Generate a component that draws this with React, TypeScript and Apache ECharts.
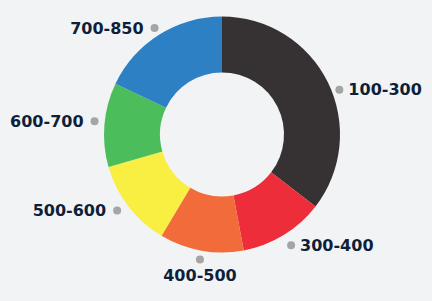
import React, { useEffect, useRef } from "react";
import * as echarts from "echarts";

const categories = ["100-300", "300-400", "400-500", "500-600", "600-700", "700-850"];
const values = [35.4, 11.6, 11.5, 12.0, 11.5, 17.9];
const colors = ["#363233", "#ee2d3a", "#f16b3b", "#f9ee42", "#4cbd5b", "#2e80c4"];
// per-slice label placement tweaks (label line length, length2, distance, padding)
const labelLen = [-16.6, 12, 17, 6.6, 4.5, 7.8];
const labelLen2 = [22.4, -2.9, 0, 2.1, 1.4, -3.7];
const labelDist = [0, 0, -41.6, 0, 0, 0];
const labelPad = [[0, 0, 0, 0], [0, 0, 0, 0], [0, 0, 0, 0], [0, 0, 0, 0], [0, 0, 6, 0], [0, 0, 0, 0]];

const TEXT_COLOR = "#0e1f3a";
const FONT = "DejaVu Sans";

export default function App() {
  const ref = useRef<HTMLDivElement>(null);
  useEffect(() => {
    document.body.style.margin = "0";
    if (!ref.current) return;
    const chart = echarts.init(ref.current, undefined, { renderer: "svg" });
    const textBase = { fontFamily: FONT, fontWeight: "bold", fontSize: 16, color: TEXT_COLOR, lineHeight: 16 };
    const data = categories.map((name, i) => ({
      name,
      value: values[i],
      itemStyle: { color: colors[i] },
      label: {
        distanceToLabelLine: labelDist[i],
        padding: labelPad[i],
      },
      labelLine: { show: false, length: labelLen[i], length2: labelLen2[i] },
    }));
    chart.setOption({
      animation: false,
      backgroundColor: "#f2f3f5",
      series: [
        {
          type: "pie",
          center: [222, 134.5],
          radius: [62, 118],
          startAngle: 90,
          clockwise: true,
          avoidLabelOverlap: false,
          silent: true,
          data,
          label: {
            show: true,
            position: "outside",
            fontFamily: FONT,
            formatter: (p: any) => {
              const i = p.dataIndex;
              if (i === 2) return `{cdot|}\n{b|${p.name}}`;
              if (i <= 1) return `{dot|}{r|${p.name}}`;
              return `{l|${p.name}}{dot|}`;
            },
            rich: {
              dot: { width: 8, height: 8, borderRadius: 4, backgroundColor: "#a5a5a5", lineHeight: 16 },
              cdot: { width: 8, height: 8, borderRadius: 4, backgroundColor: "#a5a5a5", lineHeight: 16, align: "center" },
              r: { ...textBase, padding: [0, 0, 0, 5] },
              l: { ...textBase, padding: [0, 7, 0, 0] },
              b: { ...textBase, width: 80, align: "center" },
            },
          },
          labelLine: { show: false },
        },
      ],
    });
    return () => chart.dispose();
  }, []);
  return <div ref={ref} style={{ width: 432, height: 301, background: "#f2f3f5" }} />;
}
